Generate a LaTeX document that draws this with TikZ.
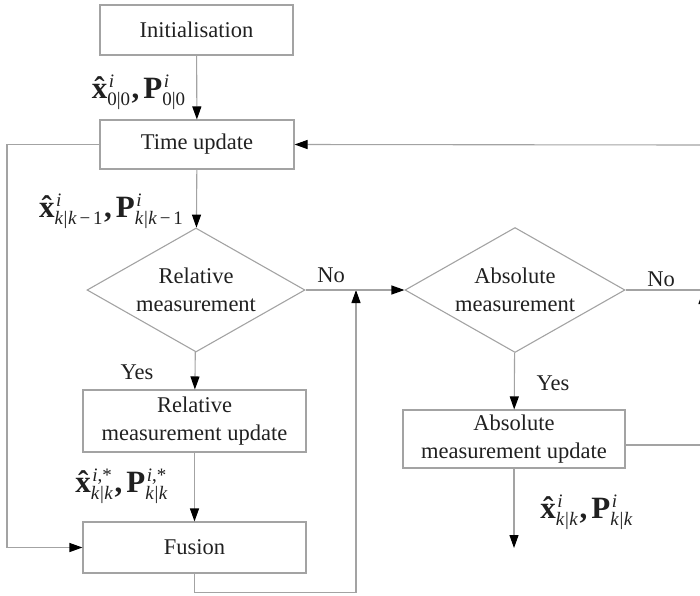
\documentclass[tikz,border=0pt]{standalone}
\usepackage{fontspec}
\setmainfont{Liberation Serif}
\usetikzlibrary{arrows.meta,shapes.geometric}
\definecolor{linegray}{HTML}{A3A3A3}
\definecolor{txt}{HTML}{202020}
\tikzset{
  box/.style={draw=linegray, line width=1.1pt, rectangle, inner sep=0pt, align=center, text=txt},
  dia/.style={draw=linegray, line width=1.1pt, diamond, inner sep=0pt, align=center, text=txt},
  conn/.style={draw=linegray, line width=1.1pt},
  arr/.style={conn, -{Triangle[length=13pt,width=9pt,color=black]}},
  lbl/.style={text=txt, inner sep=0pt},
  mlbl/.style={text=txt, inner sep=0pt, anchor=base, font=\fontsize{31}{34}\selectfont\bfseries},
}
\newcommand{\ssz}{\fontsize{19}{19}\selectfont\mdseries}
\newcommand{\sy}[3]{#1\makebox[0pt][l]{\hspace{1.5pt}\raisebox{10.5pt}{\ssz #2}}\raisebox{-7pt}{\ssz #3}}
\newcommand{\xh}{{\accent"02C6 x}}
\newcommand{\kk}{\textit{k}\hspace{0.5pt}|\hspace{0.5pt}\textit{k}}
\newcommand{\km}{\textit{k}\hspace{0.5pt}|\hspace{0.5pt}\textit{k}\hspace{0.15em}−\hspace{0.15em}1}
\newcommand{\cma}{\hspace{1.5pt},\hspace{4pt}}
\begin{document}
\begin{tikzpicture}[x=1pt,y=-1pt, font=\fontsize{22.5}{28}\selectfont]
\path[use as bounding box, clip] (0,0) rectangle (700,595);

\node[box, minimum width=193pt, minimum height=50pt] (init) at (196.5,30) {Initialisation};
\node[box, minimum width=194pt, minimum height=49pt] (time) at (197,144.5) {Time update};
\node[dia, minimum width=218pt, minimum height=124pt, shape aspect=1.76] (reld) at (196,290) {Relative\\measurement};
\node[box, minimum width=223pt, minimum height=62pt] (relu) at (194.5,421) {Relative\\measurement update};
\node[box, minimum width=223pt, minimum height=51pt] (fus) at (194.5,547.5) {Fusion};
\node[dia, minimum width=220pt, minimum height=125pt, shape aspect=1.76] (absd) at (515,290) {Absolute\\measurement};
\node[box, minimum width=222pt, minimum height=58pt] (absu) at (514,439) {Absolute\\measurement update};

\coordinate (L) at (7,350);
\coordinate (R1) at (702,145);
\coordinate (R2) at (702,290);
\coordinate (R3) at (702,445);
\coordinate (J) at (356,290);
\coordinate (out) at (514,548);
\coordinate (up) at (703,345);
\coordinate (upend) at (703,291);

% labels
\node[mlbl] (l1) at (138.5,98) {\sy{\xh}{\textit{i}}{0|0}\cma\sy{P}{\textit{i}}{0|0}};
\node[mlbl] (l2) at (111,217) {\sy{\xh}{\textit{i}}{\km}\cma\sy{P}{\textit{i}}{\km}};
\node[mlbl] (l3) at (121.5,492) {\sy{\xh}{\textit{i},*}{\kk}\cma\sy{P}{\textit{i},*}{\kk}};
\node[mlbl] (l4) at (586.5,518) {\sy{\xh}{\textit{i}}{\kk}\cma\sy{P}{\textit{i}}{\kk}};
\node[lbl] (y1) at (137,372) {Yes};
\node[lbl] (y2) at (553,383) {Yes};
\node[lbl] (n1) at (331,275) {No};
\node[lbl] (n2) at (661,279) {No};

% connectors
\draw[arr] (init) -- (time);
\draw[arr] (time.west) -| (L) |- (fus.west);
\draw[arr] (R1) -- (time.east);
\draw[arr] (time) -- (reld);
\draw[arr] (reld) -- (relu);
\draw[arr] (relu) -- (fus);
\draw[arr] (fus.south) -- ++(0,19) -| (J);
\draw[arr] (reld.east) -- (absd.west);
\draw[arr] (absd) -- (absu);
\draw[conn] (absd.east) -- (R2);
\draw[conn] (absu.east |- R3) -- (R3);
\draw[arr] (absu) -- (out);
\draw[arr] (up) -- (upend);
\end{tikzpicture}
\end{document}
